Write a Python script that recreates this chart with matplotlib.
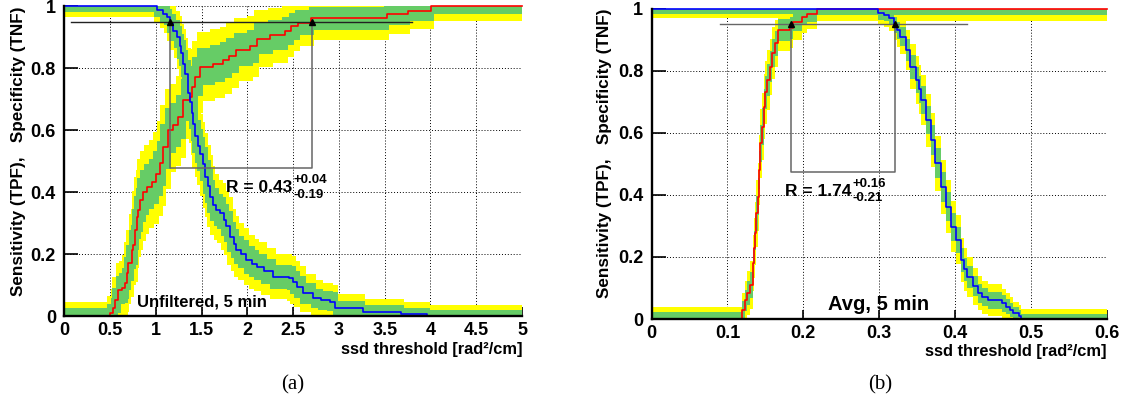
import numpy as np
import matplotlib
matplotlib.use('Agg')
import matplotlib.pyplot as plt

plt.rcParams['font.family'] = ['Liberation Sans', 'DejaVu Sans']

# ---------------- data: panel (a) Unfiltered, 5 min ----------------
a_sens_x = [0, 0.50, 0.535, 0.555, 0.59, 0.63, 0.665, 0.68, 0.70, 0.735, 0.755, 0.77, 0.79,
            0.81, 0.826, 0.86, 0.90, 0.954, 1.00, 1.045, 1.08, 1.135, 1.19, 1.245, 1.30,
            1.37, 1.40, 1.43, 1.48, 1.62, 1.73, 1.80, 1.88, 2.03, 2.10, 2.25, 2.41, 2.48,
            2.55, 2.70, 3.52, 3.75, 4.01, 5.0]
a_sens_y = [0, 0.01, 0.026, 0.053, 0.085, 0.092, 0.107, 0.139, 0.171, 0.215, 0.23, 0.28, 0.32,
            0.343, 0.375, 0.40, 0.418, 0.434, 0.46, 0.493, 0.547, 0.60, 0.617, 0.643, 0.697,
            0.708, 0.74, 0.772, 0.805, 0.815, 0.826, 0.84, 0.86, 0.87, 0.895, 0.906, 0.92,
            0.935, 0.946, 0.96, 0.974, 0.984, 1.0, 1.0]
a_spec_x = [0, 1.01, 1.08, 1.12, 1.15, 1.19, 1.23, 1.26, 1.28, 1.30, 1.32, 1.35, 1.37, 1.39,
            1.41, 1.43, 1.46, 1.48, 1.51, 1.54, 1.57, 1.59, 1.62, 1.66, 1.70, 1.74, 1.77,
            1.81, 1.85, 1.88, 1.93, 1.99, 2.05, 2.10, 2.18, 2.28, 2.46, 2.50, 2.54, 2.61,
            2.72, 2.80, 2.90, 2.96, 3.26, 3.68, 3.96, 5.0]
a_spec_y = [1.0, 0.987, 0.975, 0.965, 0.945, 0.92, 0.90, 0.87, 0.85, 0.815, 0.78, 0.72, 0.69,
            0.655, 0.62, 0.58, 0.55, 0.525, 0.49, 0.45, 0.42, 0.386, 0.36, 0.343, 0.333,
            0.31, 0.29, 0.257, 0.235, 0.214, 0.20, 0.182, 0.17, 0.16, 0.145, 0.128, 0.123,
            0.11, 0.096, 0.075, 0.059, 0.052, 0.048, 0.026, 0.015, 0.007, 0.0, 0.0]
a_n_pos, a_n_neg = 53, 95
a_marks_x = [1.155, 2.71]
a_level = 0.95
a_hline = [0.073, 3.80]
a_rect_bottom = 0.477
a_R = ('R = 0.43', '+0.04', '-0.19')
a_label = 'Unfiltered, 5 min'
a_xticks = [0, 0.5, 1, 1.5, 2, 2.5, 3, 3.5, 4, 4.5, 5]
a_xticklabels = ['0', '0.5', '1', '1.5', '2', '2.5', '3', '3.5', '4', '4.5', '5']

# ---------------- data: panel (b) Avg, 5 min ----------------
b_sens_x = [0, 0.119, 0.123, 0.126, 0.130, 0.1337, 0.135, 0.1367, 0.138, 0.140, 0.1415,
            0.1433, 0.1455, 0.1477, 0.150, 0.152, 0.1565, 0.159, 0.163, 0.166, 0.183, 0.187,
            0.198, 0.205, 0.218, 0.6]
b_sens_y = [0, 0.03, 0.06, 0.083, 0.11, 0.18, 0.23, 0.276, 0.34, 0.394, 0.48,
            0.566, 0.62, 0.684, 0.73, 0.77, 0.813, 0.856, 0.888, 0.931, 0.937, 0.958,
            0.974, 0.983, 1.0, 1.0]
b_spec_x = [0, 0.298, 0.306, 0.313, 0.319, 0.323, 0.328, 0.335, 0.341, 0.348, 0.352, 0.355,
            0.361, 0.368, 0.374, 0.381, 0.388, 0.394, 0.401, 0.408, 0.412, 0.416, 0.423,
            0.430, 0.436, 0.443, 0.462, 0.467, 0.472, 0.476, 0.4845, 0.487, 0.6]
b_spec_y = [1.0, 0.985, 0.98, 0.969, 0.947, 0.93, 0.91, 0.867, 0.813, 0.77, 0.74, 0.706,
            0.641, 0.577, 0.502, 0.426, 0.362, 0.297, 0.255, 0.19, 0.16, 0.136, 0.105,
            0.083, 0.07, 0.061, 0.05, 0.04, 0.03, 0.018, 0.01, 0.0, 0.0]
b_n_pos, b_n_neg = 78, 125
b_marks_x = [0.184, 0.3207]
b_level = 0.95
b_hline = [0.0896, 0.415]
b_rect_bottom = 0.473
b_R = ('R = 1.74', '+0.16', '-0.21')
b_label = 'Avg, 5 min'
b_xticks = [0, 0.1, 0.2, 0.3, 0.4, 0.5, 0.6]
b_xticklabels = ['0', '0.1', '0.2', '0.3', '0.4', '0.5', '0.6']

yticks = [0, 0.2, 0.4, 0.6, 0.8, 1.0]
yticklabels = ['0', '0.2', '0.4', '0.6', '0.8', '1']
ylabel = 'Sensitivity (TPF),   Specificity (TNF)'
xlabel = 'ssd threshold [rad\u00b2/cm]'

C0 = 0.036          # floor term of the binomial band
Z_GREEN, Z_YELLOW = 1.0, 1.85
GREEN, YELLOW = '#66cc66', '#ffff00'
DPI = 100


def steps(x, y):
    xs = np.repeat(x, 2)[1:]
    ys = np.repeat(y, 2)[:-1]
    return xs, ys


def band(ax, x, y, n, z, dx, rising, color, xmax, zo):
    x = np.asarray(x, float)
    y = np.asarray(y, float)
    dy = z * np.sqrt((y * (1 - y) + C0) / n)
    s = -1 if rising else 1
    xu = x + s * dx
    xl = x - s * dx
    xu[0] = xl[0] = -1.0
    xu[-1] = xl[-1] = xmax * 2
    yu = np.clip(y + dy, 0, 1)
    yl = np.clip(y - dy, 0, 1)
    ux, uy = steps(xu, yu)
    lx, ly = steps(xl, yl)
    ax.fill(np.r_[ux, lx[::-1]], np.r_[uy, ly[::-1]], color=color, lw=0, zorder=zo)


annots = []


def panel(ax, sx, sy, px, py, n_pos, n_neg, dx, xmax, xticks, xticklabels,
          marks_x, level, hline, rect_bottom, R, Rpos, label, lpos, lsize, hcolor):
    for z, col, zo in ((Z_YELLOW, YELLOW, 1.0), (Z_GREEN, GREEN, 1.5)):
        band(ax, sx, sy, n_pos, z, dx, True, col, xmax, zo)
        band(ax, px, py, n_neg, z, dx, False, col, xmax, zo)
    ax.plot(sx, sy, drawstyle='steps-post', color='#ff0000', lw=1.2, zorder=3, clip_on=False)
    ax.plot(px, py, drawstyle='steps-post', color='#0000ff', lw=1.2, zorder=3.1, clip_on=False)

    # working-point annotation
    ax.plot(hline, [level, level], color=hcolor, lw=1.0, zorder=5)
    ax.plot([marks_x[0], marks_x[0], marks_x[1], marks_x[1]],
            [level, rect_bottom, rect_bottom, level], color='#666666', lw=1.1, zorder=5)
    ax.plot(marks_x, [level, level], ls='none', marker='^', ms=4.5, color='black', zorder=6)
    t = ax.text(Rpos[0], Rpos[1], R[0], fontsize=12.5, fontweight='bold',
                ha='left', va='baseline', zorder=7)
    annots.append((ax, t, Rpos, R[1], R[2]))
    ax.text(lpos[0], lpos[1], label, fontsize=lsize, fontweight='bold',
            ha='left', va='baseline', zorder=7)

    ax.set_xlim(0, xmax)
    ax.set_ylim(0, 1)
    ax.set_xticks(xticks)
    ax.set_xticklabels(xticklabels)
    ax.set_yticks(yticks)
    ax.set_yticklabels(yticklabels)
    ax.set_axisbelow(True)
    ax.grid(True, color='black', linestyle=(0, (1, 2)), linewidth=0.7)
    for sp in ('top', 'right'):
        ax.spines[sp].set_visible(False)
    for sp in ('left', 'bottom'):
        ax.spines[sp].set_linewidth(1.7)
        ax.spines[sp].set_zorder(8)
    ax.tick_params(axis='y', direction='in', length=10, width=1.2, pad=6, labelsize=13)
    ax.tick_params(axis='x', direction='in', length=6.5, width=1.2, pad=4, labelsize=13)
    for tl in ax.get_xticklabels() + ax.get_yticklabels():
        tl.set_fontweight('bold')
    ax.text(1.0, -0.105, xlabel, transform=ax.transAxes, ha='right', va='center',
            fontsize=11.8, fontweight='bold')


fig = plt.figure(figsize=(11.26, 4.0), dpi=DPI)
axa = fig.add_axes([0.0571, 0.2088, 0.4065, 0.776])
axb = fig.add_axes([0.5786, 0.2025, 0.4045, 0.7758])

panel(axa, a_sens_x, a_sens_y, a_spec_x, a_spec_y, a_n_pos, a_n_neg, 0.03, 5.0,
      a_xticks, a_xticklabels, a_marks_x, a_level, a_hline, a_rect_bottom, a_R,
      (1.77, 0.40), a_label, (0.79, 0.032), 12, '#222222')
panel(axb, b_sens_x, b_sens_y, b_spec_x, b_spec_y, b_n_pos, b_n_neg, 0.0, 0.6,
      b_xticks, b_xticklabels, b_marks_x, b_level, b_hline, b_rect_bottom, b_R,
      (0.176, 0.396), b_label, (0.232, 0.029), 14.5, '#666666')

# place the super/subscript uncertainties right after the main R text
fig.canvas.draw()
renderer = fig.canvas.get_renderer()
for ax, t, pos, sup, sub in annots:
    bb = t.get_window_extent(renderer)
    x0 = ax.transData.transform(pos)[0]
    off = (bb.x1 - x0) * 72.0 / DPI + 1.0
    ax.annotate(sup, xy=pos, xycoords='data', xytext=(off, 6.5), textcoords='offset points',
                ha='left', va='baseline', fontsize=9.5, fontweight='bold', zorder=7)
    ax.annotate(sub, xy=pos, xycoords='data', xytext=(off, -3.8), textcoords='offset points',
                ha='left', va='baseline', fontsize=9.5, fontweight='bold', zorder=7)

fig.text(18.5 / 1126, 1 - 6 / 400, ylabel, rotation=90, ha='center', va='top',
         fontsize=12.3, fontweight='bold')
fig.text(605 / 1126, 1 - 8 / 400, ylabel, rotation=90, ha='center', va='top',
         fontsize=12.3, fontweight='bold')
fig.text(293 / 1126, 1 - 385 / 400, '(a)', ha='center', va='center',
         family='Liberation Serif', fontsize=15)
fig.text(880 / 1126, 1 - 385 / 400, '(b)', ha='center', va='center',
         family='Liberation Serif', fontsize=15)

fig.savefig('out.png', dpi=DPI)
